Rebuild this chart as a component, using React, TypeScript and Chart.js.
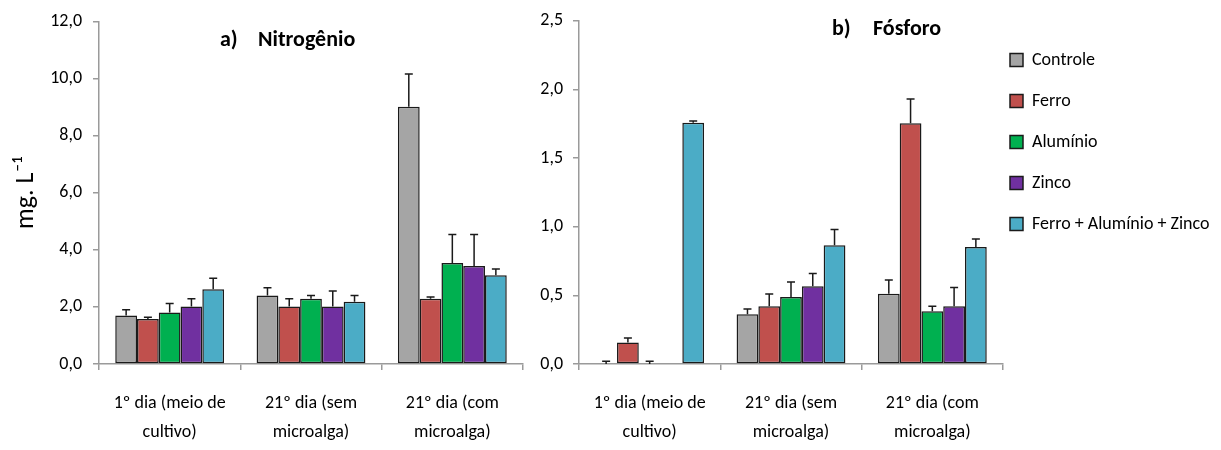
import React, { useEffect, useRef } from 'react';
import { Chart, registerables } from 'chart.js';

Chart.register(...registerables);

// ---------- data ----------
const categories = [
  ['1º dia (meio de', 'cultivo)'],
  ['21º dia (sem', 'microalga)'],
  ['21º dia (com', 'microalga)'],
];
const seriesNames = ['Controle', 'Ferro', 'Alumínio', 'Zinco', 'Ferro + Alumínio + Zinco'];
const seriesColors = ['#A5A5A5', '#C0504D', '#00B050', '#7030A0', '#4BACC6'];

// Nitrogênio (mg.L-1)
const nitroControle = [1.70, 2.40, 9.02];
const nitroFerro = [1.58, 2.02, 2.29];
const nitroAluminio = [1.81, 2.29, 3.54];
const nitroZinco = [2.02, 2.02, 3.44];
const nitroMix = [2.62, 2.18, 3.11];
const nitroControleErr = [0.20, 0.27, 1.15];
const nitroFerroErr = [0.06, 0.27, 0.06];
const nitroAluminioErr = [0.31, 0.11, 1.00];
const nitroZincoErr = [0.27, 0.54, 1.10];
const nitroMixErr = [0.39, 0.22, 0.22];
const nitroTicks = [0, 2, 4, 6, 8, 10, 12];

// Fósforo (mg.L-1)
const fosControle = [0, 0.363, 0.512];
const fosFerro = [0.156, 0.42, 1.754];
const fosAluminio = [0, 0.488, 0.384];
const fosZinco = [0, 0.567, 0.42];
const fosMix = [1.757, 0.865, 0.853];
const fosControleErr = [0.02, 0.037, 0.10];
const fosFerroErr = [0.034, 0.09, 0.176];
const fosAluminioErr = [0.02, 0.11, 0.036];
const fosZincoErr = [0, 0.093, 0.137];
const fosMixErr = [0.013, 0.115, 0.057];
const fosTicks = [0, 0.5, 1.0, 1.5, 2.0, 2.5];

const yAxisTitle = 'mg. L⁻¹';
const titleA = ['a)', 'Nitrogênio'];
const titleB = ['b)', 'Fósforo'];

// ---------- styling ----------
const FONT = 'Carlito, "Liberation Sans", Arial, sans-serif';
const AXIS_GRAY = '#9a9a9a';
const EDGE = '#1a1a1a';

const panelTitlePlugin = {
  id: 'panelTitle',
  afterDraw(chart: any, _args: any, opts: any) {
    if (!opts || !opts.texts) return;
    const ctx = chart.ctx;
    ctx.save();
    ctx.fillStyle = '#000';
    ctx.font = `bold ${opts.size}px ${FONT}`;
    ctx.textBaseline = 'alphabetic';
    ctx.textAlign = 'left';
    ctx.fillText(opts.texts[0], opts.x1, opts.y);
    ctx.fillText(opts.texts[1], opts.x2, opts.y);
    ctx.restore();
  },
};

const errorBarPlugin = {
  id: 'errorBars',
  afterDatasetsDraw(chart: any, _args: any, opts: any) {
    if (!opts || !opts.errors) return;
    const ctx = chart.ctx;
    const yScale = chart.scales.y;
    ctx.save();
    ctx.strokeStyle = EDGE;
    ctx.lineWidth = 1.5;
    chart.data.datasets.forEach((ds: any, i: number) => {
      const meta = chart.getDatasetMeta(i);
      const errs = opts.errors[i];
      meta.data.forEach((bar: any, j: number) => {
        const e = errs[j];
        if (!e) return;
        const v = ds.data[j];
        const yTop = yScale.getPixelForValue(v + e);
        ctx.beginPath();
        ctx.moveTo(bar.x, bar.y);
        ctx.lineTo(bar.x, yTop);
        ctx.moveTo(bar.x - 4, yTop);
        ctx.lineTo(bar.x + 4, yTop);
        ctx.stroke();
      });
    });
    ctx.restore();
  },
};

const fmt = (v: number) => v.toFixed(1).replace('.', ',');

function makeBarConfig(p: {
  series: number[][];
  errors: number[][];
  ticks: number[];
  yWidth: number;
  padding: any;
  title: any;
  yTitle: string | null;
  tickPad: number;
}) {
  return {
    type: 'bar' as const,
    data: {
      labels: categories,
      datasets: p.series.map((d, i) => ({
        label: seriesNames[i],
        data: d,
        backgroundColor: seriesColors[i],
        borderColor: EDGE,
        borderWidth: 1.5,
        borderSkipped: false,
        barPercentage: 1,
        categoryPercentage: 0.77,
      })),
    },
    options: {
      responsive: false,
      animation: false,
      devicePixelRatio: 1,
      layout: { padding: p.padding },
      plugins: {
        legend: { display: false },
        tooltip: { enabled: false },
        errorBars: { errors: p.errors },
        panelTitle: p.title,
      },
      scales: {
        x: {
          offset: true,
          grid: {
            offset: true,
            drawOnChartArea: false,
            drawTicks: true,
            tickLength: 6,
            color: AXIS_GRAY,
            lineWidth: 1.5,
          },
          border: { color: AXIS_GRAY, width: 1.5 },
          ticks: {
            color: '#000',
            autoSkip: false,
            maxRotation: 0,
            minRotation: 0,
            padding: 19,
            font: { family: FONT, size: 18, lineHeight: 1.6 },
          },
          afterFit: (s: any) => {
            s.height = 86;
          },
        },
        y: {
          min: p.ticks[0],
          max: p.ticks[p.ticks.length - 1],
          afterBuildTicks: (s: any) => {
            s.ticks = p.ticks.map((v) => ({ value: v }));
          },
          grid: {
            drawOnChartArea: false,
            drawTicks: true,
            tickLength: 6,
            color: AXIS_GRAY,
            lineWidth: 1.5,
          },
          border: { color: AXIS_GRAY, width: 1.5 },
          ticks: {
            color: '#000',
            padding: p.tickPad,
            font: { family: FONT, size: 18 },
            callback: (v: any) => fmt(Number(v)),
          },
          title: p.yTitle
            ? {
                display: true,
                text: p.yTitle,
                color: '#000',
                font: { family: FONT, size: 26 },
                padding: { top: 11, bottom: 0 },
              }
            : { display: false },
          afterFit: (s: any) => {
            s.width = p.yWidth;
          },
        },
      },
    },
    plugins: [errorBarPlugin, panelTitlePlugin],
  };
}

export default function App() {
  const leftRef = useRef<HTMLCanvasElement>(null);
  const rightRef = useRef<HTMLCanvasElement>(null);
  const legendRef = useRef<HTMLCanvasElement>(null);

  useEffect(() => {
    const left = new Chart(
      leftRef.current as HTMLCanvasElement,
      makeBarConfig({
        series: [nitroControle, nitroFerro, nitroAluminio, nitroZinco, nitroMix],
        errors: [nitroControleErr, nitroFerroErr, nitroAluminioErr, nitroZincoErr, nitroMixErr],
        ticks: nitroTicks,
        yWidth: 99,
        padding: { top: 17, right: 37, bottom: 0, left: 0 },
        title: { texts: titleA, x1: 220, x2: 258, y: 46, size: 22 },
        yTitle: yAxisTitle,
        tickPad: 11,
      }) as any
    );
    const right = new Chart(
      rightRef.current as HTMLCanvasElement,
      makeBarConfig({
        series: [fosControle, fosFerro, fosAluminio, fosZinco, fosMix],
        errors: [fosControleErr, fosFerroErr, fosAluminioErr, fosZincoErr, fosMixErr],
        ticks: fosTicks,
        yWidth: 59,
        padding: { top: 17, right: 7, bottom: 0, left: 0 },
        title: { texts: titleB, x1: 312, x2: 353, y: 35, size: 22 },
        yTitle: null,
        tickPad: 10,
      }) as any
    );
    const legend = new Chart(legendRef.current as HTMLCanvasElement, {
      type: 'bar',
      data: {
        labels: [],
        datasets: seriesNames.map((n, i) => ({
          label: n,
          data: [],
          backgroundColor: seriesColors[i],
          borderColor: EDGE,
          borderWidth: 1.5,
        })),
      },
      options: {
        responsive: false,
        animation: false,
        devicePixelRatio: 1,
        layout: { padding: { top: 28, left: 0, right: 0, bottom: 0 } },
        scales: { x: { display: false }, y: { display: false } },
        plugins: {
          tooltip: { enabled: false },
          legend: {
            display: true,
            position: 'left',
            align: 'start',
            maxWidth: 400,
            labels: {
              color: '#000',
              boxWidth: 13,
              boxHeight: 13,
              padding: 23,
              font: { family: FONT, size: 18 },
            },
          },
        },
      },
    } as any);
    return () => {
      left.destroy();
      right.destroy();
      legend.destroy();
    };
  }, []);

  return (
    <div style={{ position: 'absolute', left: 0, top: 0, width: 1221, height: 450, background: '#fff' }}>
      <canvas ref={leftRef} width={560} height={450} style={{ position: 'absolute', left: 0, top: 0 }} />
      <canvas ref={rightRef} width={490} height={450} style={{ position: 'absolute', left: 520, top: 0 }} />
      <canvas ref={legendRef} width={234} height={450} style={{ position: 'absolute', left: 987, top: 0 }} />
    </div>
  );
}
